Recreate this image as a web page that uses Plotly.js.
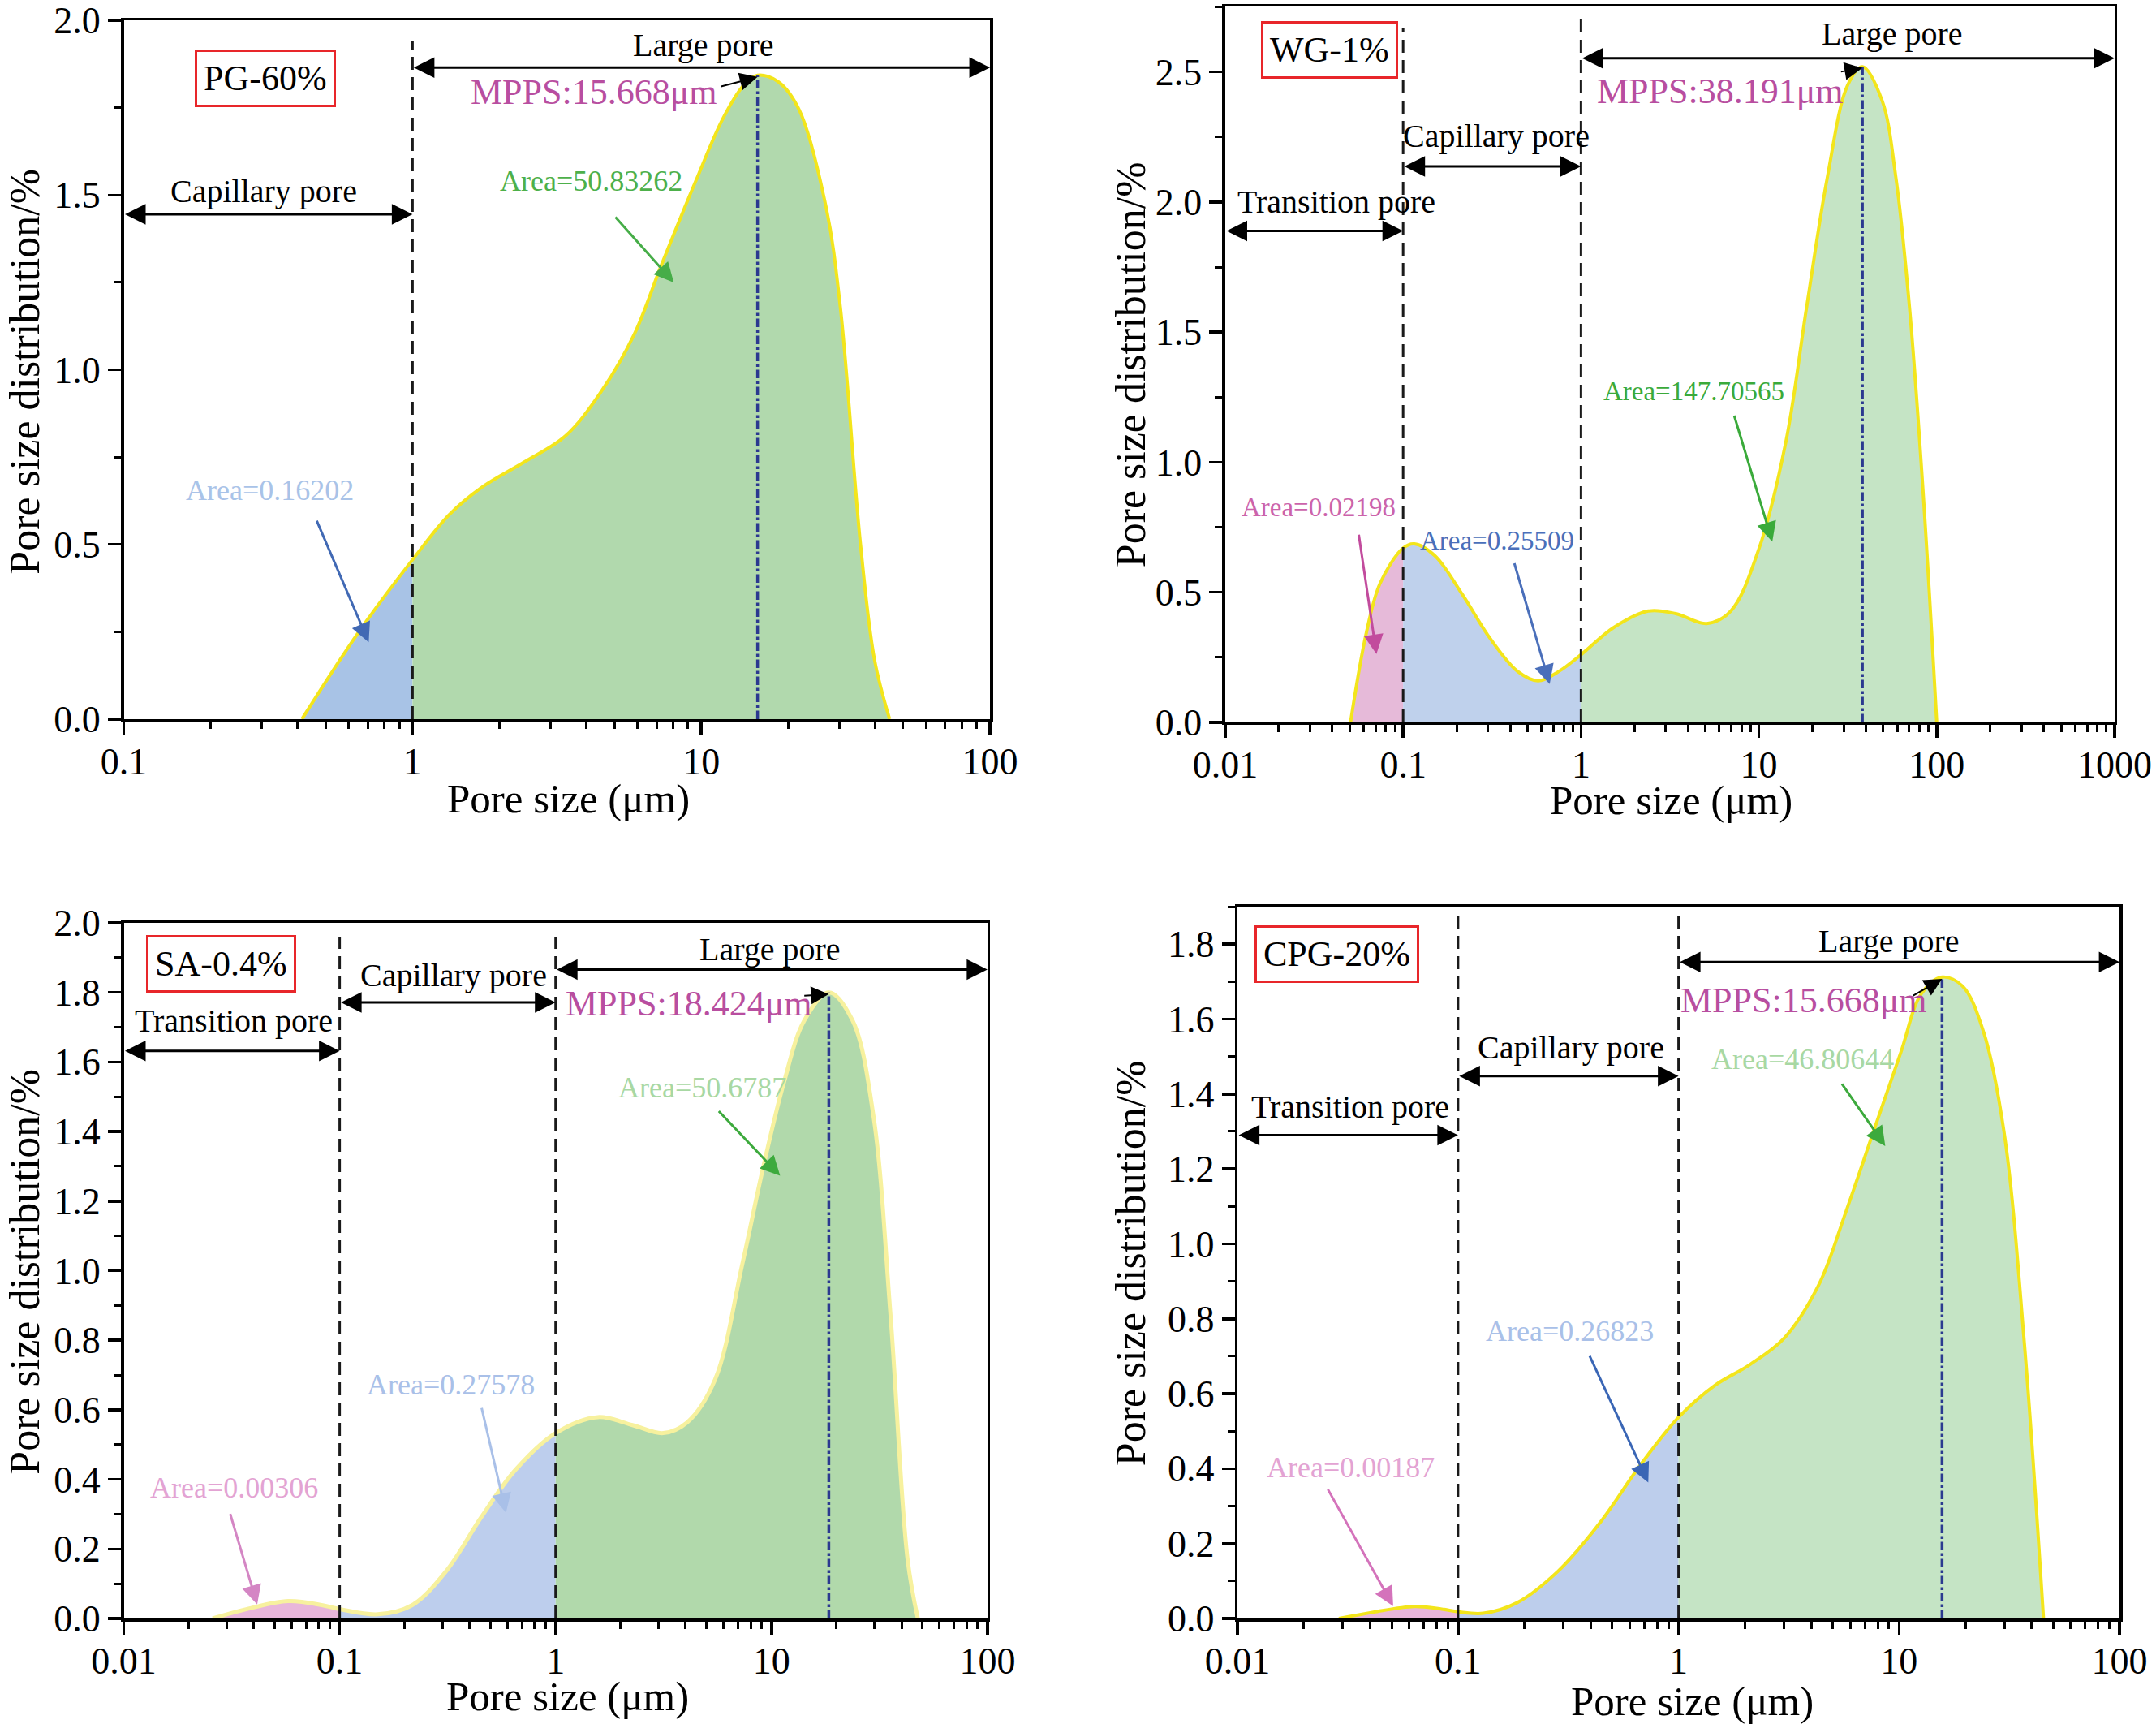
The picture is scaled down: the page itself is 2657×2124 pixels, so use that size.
<!DOCTYPE html>
<html>
<head>
<meta charset="utf-8">
<script src="https://cdn.plot.ly/plotly-3.0.1.min.js"></script>
<style>html,body{margin:0;padding:0;background:#fff;}#chart{width:2657px;height:2124px;}</style>
</head>
<body>
<div id="chart"></div>
<script>
// ---------------- data ----------------
const pg60_x = [0.414, 0.652, 1, 1.34, 1.75, 2.43, 3.38, 4.44, 5.85, 7.28, 9.57, 11.9, 14.06, 15.67, 18.5, 21.8, 27.1, 30.3, 35.6, 39.8, 44.9];
const pg60_y = [0, 0.25, 0.456, 0.585, 0.665, 0.735, 0.81, 0.93, 1.10, 1.30, 1.54, 1.72, 1.815, 1.843, 1.824, 1.745, 1.462, 1.18, 0.50, 0.17, 0];

const wg1_x = [0.0506, 0.0621, 0.0742, 0.1, 0.1157, 0.151, 0.216, 0.308, 0.44, 0.574, 0.751, 1, 1.53, 2.39, 3.41, 5.09, 6.95, 9.93, 14.2, 18.5, 24.2, 31.6, 38.19, 49.3, 58.9, 70.4, 84.1, 100];
const wg1_y = [0, 0.344, 0.534, 0.67, 0.686, 0.64, 0.49, 0.323, 0.196, 0.16, 0.196, 0.26, 0.365, 0.428, 0.418, 0.38, 0.428, 0.66, 1.08, 1.59, 2.09, 2.45, 2.52, 2.39, 2.095, 1.59, 0.87, 0];

const sa04_x = [0.0258, 0.0372, 0.0578, 0.0834, 0.1, 0.15, 0.216, 0.312, 0.451, 0.651, 1, 1.57, 2.27, 3.15, 4.07, 5.47, 7.33, 9.14, 11.4, 14.2, 18.42, 23.7, 29.6, 35.6, 42.7, 47.6];
const sa04_y = [0, 0.027, 0.05, 0.038, 0.027, 0.012, 0.038, 0.137, 0.29, 0.427, 0.533, 0.579, 0.556, 0.533, 0.564, 0.686, 1.02, 1.296, 1.54, 1.72, 1.80, 1.72, 1.448, 0.869, 0.168, 0];

const cpg20_x = [0.0288, 0.0413, 0.0634, 0.0844, 0.1, 0.13, 0.185, 0.285, 0.438, 0.672, 1, 1.46, 2.11, 3.02, 4.32, 5.76, 7.66, 10.2, 12.6, 15.67, 19.4, 24.1, 29.9, 37, 45.2];
const cpg20_y = [0, 0.017, 0.032, 0.025, 0.018, 0.014, 0.042, 0.127, 0.254, 0.41, 0.537, 0.622, 0.678, 0.749, 0.89, 1.088, 1.30, 1.512, 1.667, 1.712, 1.688, 1.568, 1.30, 0.735, 0];

const sampleNames = ['PG-60%', 'WG-1%', 'SA-0.4%', 'CPG-20%'];
const mppsValues = [15.668, 38.191, 18.424, 15.668];
const mppsPeaks = [1.843, 2.52, 1.80, 1.712];
const areaPG60 = ['Area=0.16202', 'Area=50.83262'];
const areaWG1 = ['Area=0.02198', 'Area=0.25509', 'Area=147.70565'];
const areaSA04 = ['Area=0.00306', 'Area=0.27578', 'Area=50.6787'];
const areaCPG20 = ['Area=0.00187', 'Area=0.26823', 'Area=46.80644'];
const xTickVals = [0.01, 0.1, 1, 10, 100, 1000];
const xTickText = ['0.01', '0.1', '1', '10', '100', '1000'];
const xTitle = 'Pore size (μm)';
const yTitle = 'Pore size distribution/%';

// ---------------- helpers ----------------
const L = Math.log10;
const FONT = 'Liberation Serif, Times New Roman, serif';

function segments(xs, ys, bounds) {
  const out = [];
  for (let i = 0; i < bounds.length - 1; i++) {
    const lo = bounds[i], hi = bounds[i + 1];
    const sx = [], sy = [];
    xs.forEach((v, k) => { if (v >= lo - 1e-9 && v <= hi + 1e-9) { sx.push(v); sy.push(ys[k]); } });
    out.push({ x: sx, y: sy });
  }
  return out;
}

const traces = [];
function addPanel(n, xs, ys, bounds, colors, lineColor, lineWidth) {
  const xa = n === 1 ? 'x' : 'x' + n, ya = n === 1 ? 'y' : 'y' + n;
  segments(xs, ys, bounds).forEach((s, i) => {
    traces.push({ type: 'scatter', mode: 'lines', x: s.x, y: s.y, xaxis: xa, yaxis: ya,
      fill: 'tozeroy', fillcolor: colors[i], line: { width: 0, shape: 'spline', smoothing: 1.0 },
      hoverinfo: 'skip', showlegend: false });
  });
  traces.push({ type: 'scatter', mode: 'lines', x: xs, y: ys, xaxis: xa, yaxis: ya,
    line: { color: lineColor, width: lineWidth, shape: 'spline', smoothing: 1.0 }, showlegend: false });
}

addPanel(1, pg60_x, pg60_y, [0.4, 1, 50], ['#a8c3e6', '#b1d9ad'], '#f3e51b', 4);
addPanel(2, wg1_x, wg1_y, [0.05, 0.1, 1, 100], ['#e6bad9', '#bfd1ec', '#c5e4c5'], '#f3e51b', 4);
addPanel(3, sa04_x, sa04_y, [0.02, 0.1, 1, 50], ['#e8b6da', '#bdceed', '#b1d9ab'], '#f7f19e', 5);
addPanel(4, cpg20_x, cpg20_y, [0.02, 0.1, 1, 50], ['#e8b6da', '#bdceec', '#c5e4c5'], '#f3e51b', 4);

const ann = [];
const shapes = [];
function r(n, axis) { return n === 1 ? axis : axis + n; }
function text(n, x, y, t, size, color, extra) {
  ann.push(Object.assign({ xref: r(n, 'x'), yref: r(n, 'y'), x: L(x), y: y, text: t, showarrow: false,
    font: { family: FONT, size: size, color: color }, xanchor: 'center', yanchor: 'middle' }, extra || {}));
}
function arrow(n, tx, ty, hx, hy, color, width, size) {
  ann.push({ xref: r(n, 'x'), yref: r(n, 'y'), axref: r(n, 'x'), ayref: r(n, 'y'),
    x: L(hx), y: hy, ax: L(tx), ay: ty, text: '', showarrow: true, arrowhead: 2,
    arrowsize: size || 1.6, arrowwidth: width || 3, arrowcolor: color, standoff: 0, startstandoff: 0 });
}
function dbl(n, xa, xb, y) {
  ann.push({ xref: r(n, 'x'), yref: r(n, 'y'), axref: r(n, 'x'), ayref: r(n, 'y'),
    x: L(xb), y: y, ax: L(xa), ay: y, text: '', showarrow: true, arrowhead: 2, startarrowhead: 2,
    arrowside: 'end+start', arrowsize: 1.7, startarrowsize: 1.7, arrowwidth: 3, arrowcolor: '#000',
    standoff: 0, startstandoff: 0 });
}
function box(n, x, y, t) {
  text(n, x, y, t, 44, '#000', { bordercolor: '#e8262a', borderwidth: 3, borderpad: 8, bgcolor: '#fff' });
}
function vdash(n, x, top) {
  shapes.push({ type: 'line', xref: r(n, 'x'), yref: r(n, 'y') + ' domain', x0: x, x1: x, y0: 0, y1: top,
    line: { color: '#1a1a1a', width: 3, dash: '16px,9px' } });
}
function mpps(n, i, tx, ty, ax0, ay0) {
  shapes.push({ type: 'line', xref: r(n, 'x'), yref: r(n, 'y'), x0: mppsValues[i], x1: mppsValues[i],
    y0: 0, y1: mppsPeaks[i], line: { color: '#2b3990', width: 3.5, dash: 'dashdot' } });
  text(n, tx, ty, 'MPPS:' + mppsValues[i] + 'μm', 44, '#b84ea0');
  arrow(n, ax0, ay0, mppsValues[i], mppsPeaks[i] - 0.005, '#000', 2, 2.2);
}
function titles(n, xx, xy, yx, yy) {
  ann.push({ xref: r(n, 'x') + ' domain', yref: r(n, 'y') + ' domain', x: xx, y: xy, text: xTitle,
    showarrow: false, xanchor: 'center', yanchor: 'middle', font: { family: FONT, size: 51, color: '#000' } });
  ann.push({ xref: r(n, 'x') + ' domain', yref: r(n, 'y') + ' domain', x: yx, y: yy, text: yTitle,
    showarrow: false, textangle: -90, xanchor: 'center', yanchor: 'middle', font: { family: FONT, size: 52, color: '#000' } });
}

// Panel 1: PG-60%
box(1, 0.309, 1.835, sampleNames[0]);
vdash(1, 1, 0.97);
dbl(1, 0.1, 1, 1.445);
text(1, 0.306, 1.51, 'Capillary pore', 40, '#000');
dbl(1, 1, 100, 1.865);
text(1, 10.2, 1.93, 'Large pore', 40, '#000');
mpps(1, 0, 4.26, 1.795, 11.6, 1.81);
text(1, 4.16, 1.54, areaPG60[1], 36, '#4db04a');
arrow(1, 5.0, 1.44, 8.03, 1.25, '#46ad48', 3);
text(1, 0.32, 0.654, areaPG60[0], 36, '#a9c3e8');
arrow(1, 0.464, 0.571, 0.705, 0.22, '#4169b4', 3);
titles(1, 0.513, -0.1140, -0.1143, 0.498);

// Panel 2: WG-1%
box(2, 0.0386, 2.584, sampleNames[1]);
vdash(2, 0.1, 0.97);
vdash(2, 1, 0.99);
dbl(2, 1, 1000, 2.553);
text(2, 56, 2.647, 'Large pore', 40, '#000');
mpps(2, 1, 6.05, 2.426, 28.5, 2.50);
dbl(2, 0.1, 1, 2.137);
text(2, 0.333, 2.253, 'Capillary pore', 40, '#000');
dbl(2, 0.01, 0.1, 1.889);
text(2, 0.0423, 2.0, 'Transition pore', 40, '#000');
text(2, 0.0335, 0.826, areaWG1[0], 33, '#cc63ab');
arrow(2, 0.0562, 0.726, 0.0708, 0.263, '#c24b9d', 3);
text(2, 0.339, 0.70, areaWG1[1], 33, '#4a6fba');
arrow(2, 0.42, 0.616, 0.667, 0.147, '#4a6fba', 3);
text(2, 4.32, 1.274, areaWG1[2], 33, '#3aaa3a');
arrow(2, 7.23, 1.184, 11.9, 0.695, '#3aaa3a', 3);
titles(2, 0.501, -0.1085, -0.1067, 0.5);

// Panel 3: SA-0.4%
box(3, 0.0283, 1.881, sampleNames[2]);
vdash(3, 0.1, 0.98);
vdash(3, 1, 0.98);
dbl(3, 0.01, 0.1, 1.632);
text(3, 0.0324, 1.719, 'Transition pore', 40, '#000');
dbl(3, 0.1, 1, 1.771);
text(3, 0.338, 1.85, 'Capillary pore', 40, '#000');
dbl(3, 1, 100, 1.866);
text(3, 9.86, 1.925, 'Large pore', 40, '#000');
mpps(3, 2, 4.15, 1.767, 14.0, 1.79);
text(3, 4.79, 1.526, areaSA04[2], 36, '#a8d8a3');
arrow(3, 5.63, 1.462, 10.96, 1.273, '#3daa3d', 3);
text(3, 0.328, 0.672, areaSA04[1], 36, '#a9c0e8');
arrow(3, 0.453, 0.609, 0.589, 0.304, '#a9c0e8', 3);
text(3, 0.0324, 0.375, areaSA04[0], 36, '#e3a3d3');
arrow(3, 0.031, 0.304, 0.0415, 0.04, '#d486c4', 3);
titles(3, 0.514, -0.1125, -0.1146, 0.498);

// Panel 4: CPG-20%
box(4, 0.0282, 1.774, sampleNames[3]);
vdash(4, 0.1, 0.988);
vdash(4, 1, 0.988);
dbl(4, 1, 100, 1.752);
text(4, 9.04, 1.807, 'Large pore', 40, '#000');
mpps(4, 3, 3.71, 1.65, 11.4, 1.66);
dbl(4, 0.1, 1, 1.448);
text(4, 0.325, 1.525, 'Capillary pore', 40, '#000');
dbl(4, 0.01, 0.1, 1.29);
text(4, 0.0325, 1.367, 'Transition pore', 40, '#000');
text(4, 3.65, 1.492, areaCPG20[2], 36, '#a8d8a3');
arrow(4, 5.46, 1.43, 8.66, 1.261, '#3daa3d', 3);
text(4, 0.321, 0.766, areaCPG20[1], 36, '#a9c0e8');
arrow(4, 0.393, 0.704, 0.729, 0.363, '#3a66b5', 3);
text(4, 0.0325, 0.403, areaCPG20[0], 36, '#e3a3d3');
arrow(4, 0.0255, 0.348, 0.0508, 0.033, '#d473bb', 3);
titles(4, 0.516, -0.1160, -0.1214, 0.4994);

// ---------------- axes ----------------
function minorVals(lo, hi) {
  const v = [];
  for (let e = Math.round(L(lo)); e < Math.round(L(hi)); e++) for (let d = 2; d <= 9; d++) v.push(d * Math.pow(10, e));
  return v;
}
function xAxis(lo, hi, domain, anchor) {
  const tv = xTickVals.filter(v => v >= lo && v <= hi);
  return { type: 'log', range: [L(lo), L(hi)], domain: domain, anchor: anchor,
    showline: true, linewidth: 3.5, linecolor: '#000', mirror: true, showgrid: false, zeroline: false,
    ticks: 'outside', ticklen: 16, tickwidth: 3.5, tickcolor: '#000', ticklabelstandoff: -7,
    tickmode: 'array', tickvals: tv, ticktext: tv.map(v => xTickText[xTickVals.indexOf(v)]),
    minor: { tickmode: 'array', tickvals: minorVals(lo, hi), ticks: 'outside', ticklen: 9, tickwidth: 3, tickcolor: '#000', showgrid: false },
    tickfont: { family: FONT, size: 46, color: '#000' } };
}
function yAxis(hi, dtick, domain, anchor) {
  return { range: [0, hi], domain: domain, anchor: anchor,
    showline: true, linewidth: 3.5, linecolor: '#000', mirror: true, showgrid: false, zeroline: false,
    ticks: 'outside', ticklen: 16, tickwidth: 3.5, tickcolor: '#000', dtick: dtick, tick0: 0, tickformat: '.1f',
    minor: { dtick: dtick / 2, ticks: 'outside', ticklen: 9, tickwidth: 3, tickcolor: '#000', showgrid: false },
    tickfont: { family: FONT, size: 46, color: '#000' } };
}

const layout = {
  width: 2657, height: 2124, margin: { l: 0, r: 0, t: 0, b: 0 },
  paper_bgcolor: '#fff', plot_bgcolor: 'rgba(0,0,0,0)', showlegend: false,
  font: { family: FONT, color: '#000' },
  xaxis: xAxis(0.1, 100, [0.0574, 0.4592], 'y'),
  yaxis: yAxis(2.0, 0.5, [0.5829, 0.9882], 'x'),
  xaxis2: xAxis(0.01, 1000, [0.5683, 0.9808], 'y2'),
  yaxis2: yAxis(2.75, 0.5, [0.581, 0.996], 'x2'),
  xaxis3: xAxis(0.01, 100, [0.0574, 0.458], 'y3'),
  yaxis3: yAxis(2.0, 0.2, [0.0612, 0.4647], 'x3'),
  xaxis4: xAxis(0.01, 100, [0.574, 0.9831], 'y4'),
  yaxis4: yAxis(1.9, 0.2, [0.0612, 0.4741], 'x4'),
  annotations: ann, shapes: shapes
};

Plotly.newPlot('chart', traces, layout, { staticPlot: true });
</script>
</body>
</html>
